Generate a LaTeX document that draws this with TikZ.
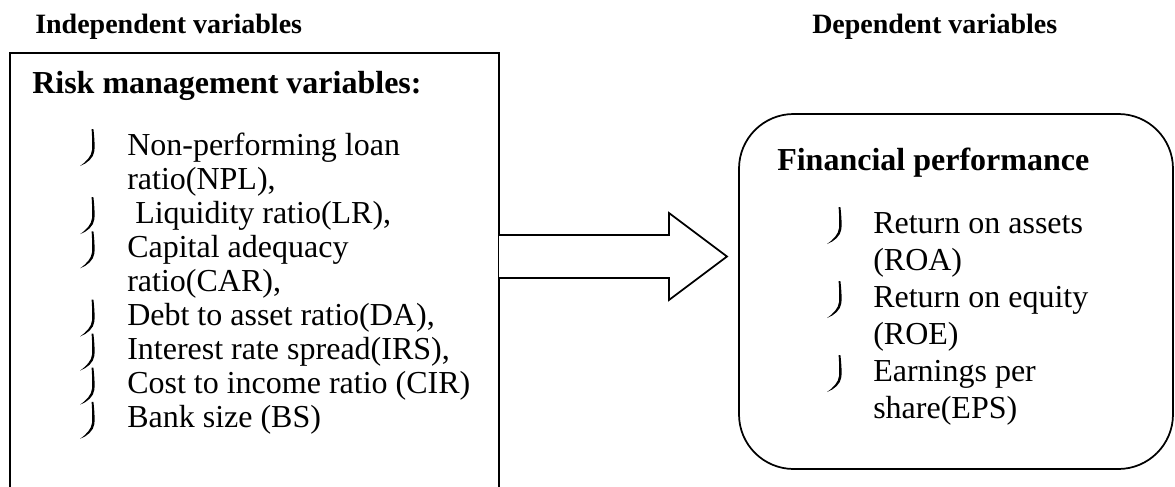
\documentclass[tikz,border=0pt]{standalone}
\usepackage{fontspec}
\setmainfont{Liberation Serif}
\usetikzlibrary{calc}
\tikzset{
  txt/.style={inner sep=0pt, anchor=base west, font=\fontsize{24}{26}\selectfont},
  head/.style={inner sep=0pt, anchor=base west, font=\fontsize{24}{26}\selectfont\bfseries},
  ttl/.style={inner sep=0pt, anchor=base west, font=\fontsize{21}{24}\selectfont\bfseries},
  frame/.style={draw=black, line width=1.3pt},
  pics/tickglyph/.style={code={
    \fill (11.6,-26) -- (13.4,-26) .. controls (14.6,-16) and (14.8,-8) .. (14.4,-4)
      .. controls (13.6,3) and (7,8.5) .. (0,11)
      .. controls (6.5,6.5) and (11.6,1) .. (12,-5)
      .. controls (12.4,-10) and (12.2,-18) .. (11.6,-26) -- cycle;
  }}
}
\begin{document}
\begin{tikzpicture}[x=0.75pt, y=-0.75pt]
\useasboundingbox (0,0) rectangle (1175,486);
% titles
\node[ttl] (tind) at (35,33) {Independent variables};
\node[ttl] (tdep) at (812,33) {Dependent variables};
% left box
\coordinate (lboxnw) at (10,53);
\coordinate (lboxse) at (499,520);
\draw[frame] (lboxnw) rectangle (lboxse);
\node[head] (hrisk) at (32,93) {Risk management variables:};
\node[txt] (l1) at (127,155.0) {Non-performing loan};
\node[txt] (l2) at (127,189.1) {ratio(NPL),};
\node[txt] (l3) at (127,223.2) {\ Liquidity ratio(LR),};
\node[txt] (l4) at (127,257.3) {Capital adequacy};
\node[txt] (l5) at (127,291.4) {ratio(CAR),};
\node[txt] (l6) at (127,325.5) {Debt to asset ratio(DA),};
\node[txt] (l7) at (127,359.6) {Interest rate spread(IRS),};
\node[txt] (l8) at (127,393.7) {Cost to income ratio (CIR)};
\node[txt] (l9) at (127,427.8) {Bank size (BS)};
\foreach \yy in {155.0,223.2,257.3,325.5,359.6,393.7,427.8}
  \pic at (80,\yy) {tickglyph};
% right box
\coordinate (rboxnw) at (739,114);
\coordinate (rboxse) at (1173,469);
\draw[frame, rounded corners=41pt] (rboxnw) rectangle (rboxse);
\node[head] (hfin) at (777,170) {Financial performance};
\node[txt] (r1) at (873,233) {Return on assets};
\node[txt] (r2) at (873,270) {(ROA)};
\node[txt] (r3) at (873,307) {Return on equity};
\node[txt] (r4) at (873,344) {(ROE)};
\node[txt] (r5) at (873,381) {Earnings per};
\node[txt] (r6) at (873,418) {share(EPS)};
\foreach \yy in {233,307,381}
  \pic at (827,\yy) {tickglyph};
% block arrow
\coordinate (atail) at (499,256.5);
\coordinate (atip) at (727,256.5);
\draw[frame, line join=miter, fill=white]
  ($(atail)+(0,-21.5)$) -- ($(atip)+(-58,-21.5)$) -- ($(atip)+(-58,-43.5)$)
  -- (atip) -- ($(atip)+(-58,43.5)$) -- ($(atip)+(-58,21.5)$)
  -- ($(atail)+(0,21.5)$);
\end{tikzpicture}
\end{document}
